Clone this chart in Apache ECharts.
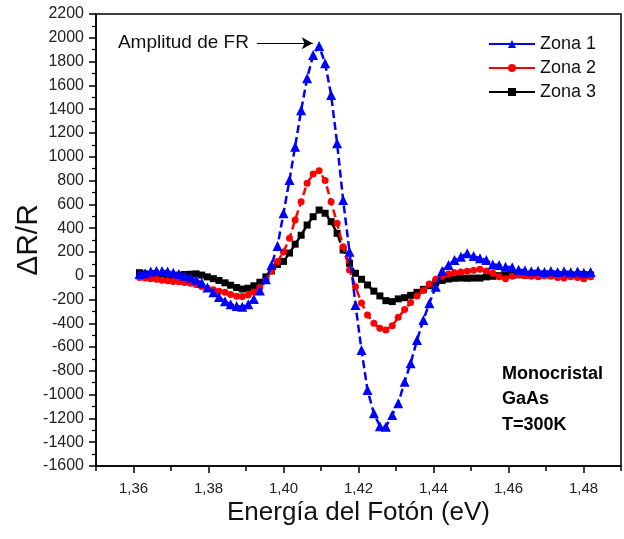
<!DOCTYPE html>
<html>
<head>
<meta charset="utf-8">
<script src="https://cdn.jsdelivr.net/npm/echarts@6/dist/echarts.min.js"></script>
<style>
  html, body { margin: 0; padding: 0; background: #fff; }
  #chart { width: 624px; height: 539px; }
</style>
</head>
<body>
<div id="chart"></div>
<script>
// energía (eV) de cada punto medido
var energy = [1.3616, 1.3631, 1.3646, 1.3661, 1.3676, 1.3691, 1.3706, 1.3721, 1.3736, 1.3752,
  1.3767, 1.3782, 1.3797, 1.3813, 1.3828, 1.3844, 1.3859, 1.3875, 1.3890, 1.3906,
  1.3921, 1.3937, 1.3953, 1.3968, 1.3984, 1.4000, 1.4016, 1.4031, 1.4047, 1.4063,
  1.4079, 1.4095, 1.4111, 1.4127, 1.4143, 1.4159, 1.4176, 1.4192, 1.4208, 1.4224,
  1.4241, 1.4257, 1.4273, 1.4290, 1.4306, 1.4323, 1.4339, 1.4356, 1.4373, 1.4389,
  1.4406, 1.4423, 1.4440, 1.4456, 1.4473, 1.4490, 1.4507, 1.4524, 1.4541, 1.4558,
  1.4575, 1.4592, 1.4610, 1.4627, 1.4644, 1.4661, 1.4679, 1.4696, 1.4713, 1.4731,
  1.4748, 1.4766, 1.4784, 1.4801, 1.4819]

var zona1 = [15, 20, 35, 40, 40, 35, 25, 15, 0, -15,
  -35, -60, -100, -140, -180, -215, -240, -255, -262, -240,
  -195, -125, -30, 90, 250, 525, 805, 1085, 1390, 1660,
  1855, 1930, 1786, 1519, 1113, 636, 202, -246, -625, -961,
  -1157, -1265, -1270, -1171, -1073, -891, -737, -541, -372, -232,
  -92, 40, 90, 132, 160, 188, 165, 146, 132, 95,
  90, 76, 70, 50, 45, 38, 42, 32, 40, 30,
  38, 28, 35, 25, 30]

var zona2 = [-15, -20, -25, -30, -38, -42, -48, -52, -58, -64,
  -75, -90, -105, -118, -130, -140, -158, -172, -175, -162,
  -138, -100, -40, 40, 120, 200, 314, 468, 622, 777,
  855, 883, 800, 622, 440, 244, 48, -92, -230, -330,
  -400, -442, -456, -420, -350, -285, -225, -170, -125, -70,
  -30, -5, 15, 25, 32, 38, 45, 55, 40, 20,
  -10, -25, -5, 5, 0, -5, -10, 0, -5, -15,
  -20, -10, -15, -25, -10]

var zona3 = [25, 15, 5, -10, -20, -15, -5, 5, 10, 12,
  15, 5, -10, -25, -40, -60, -80, -100, -112, -105,
  -85, -55, -10, 40, 95, 120, 190, 265, 340, 426,
  496, 552, 525, 454, 356, 216, 104, 20, -30, -78,
  -130, -170, -210, -218, -195, -185, -165, -140, -115, -85,
  -60, -40, -28, -22, -20, -22, -20, -20, -10, -5,
  0, 5, 5, 8, 5, 8, 10, 8, 12, 10,
  5, 8, 5, 10, 5]

var xMajor = [1.36, 1.38, 1.40, 1.42, 1.44, 1.46, 1.48]
var xMinor = [1.35, 1.37, 1.39, 1.41, 1.43, 1.45, 1.47, 1.49]

// flecha "Amplitud de FR"
var arrowFrom = [1.3929, 1955]
var arrowTo = [1.4078, 1955]

var font = '"Liberation Sans", Arial, sans-serif'

function pairs (ys) {
  return energy.map(function (x, i) { return [x, ys[i]] })
}

var chart = echarts.init(document.getElementById('chart'))
var option = {
  animation: false,
  backgroundColor: '#fff',
  textStyle: { fontFamily: font },
  grid: {
    left: 96,
    right: 3,
    top: 14,
    bottom: 73,
    outerBoundsMode: 'none',
    containLabel: false,
    show: true,
    borderColor: '#000',
    borderWidth: 1.5
  },
  legend: {
    orient: 'vertical',
    left: 488,
    top: 35,
    padding: 0,
    itemGap: 6,
    itemWidth: 46,
    itemHeight: 10,
    lineStyle: { type: 'solid' },
    textStyle: { fontSize: 18, color: '#111', fontFamily: font },
    data: ['Zona 1', 'Zona 2', 'Zona 3']
  },
  xAxis: [
    {
      type: 'value',
      min: 1.35,
      max: 1.49,
      name: 'Energía del Fotón (eV)',
      nameLocation: 'middle',
      nameGap: 34,
      nameMoveOverlap: false,
      nameTextStyle: { fontSize: 26, color: '#111', fontFamily: font },
      axisLine: { onZero: false, lineStyle: { color: '#000', width: 1.5 } },
      axisTick: { customValues: xMajor, length: 7, lineStyle: { color: '#000', width: 1.5 } },
      axisLabel: {
        customValues: xMajor,
        margin: 15,
        fontSize: 15,
        color: '#222',
        formatter: function (v) { return v.toFixed(2).replace('.', ',') }
      },
      splitLine: { show: false }
    },
    {
      type: 'value',
      min: 1.35,
      max: 1.49,
      position: 'bottom',
      axisLine: { show: false, onZero: false },
      axisTick: { customValues: xMinor, length: 5, lineStyle: { color: '#000', width: 1.5 } },
      axisLabel: { show: false },
      splitLine: { show: false }
    }
  ],
  yAxis: {
    type: 'value',
    min: -1600,
    max: 2200,
    interval: 200,
    name: 'ΔR/R',
    nameLocation: 'middle',
    nameRotate: 90,
    nameGap: 52,
    nameMoveOverlap: false,
    nameTextStyle: { fontSize: 30, color: '#111', fontFamily: font },
    axisLine: { onZero: false, lineStyle: { color: '#000', width: 1.5 } },
    axisTick: { length: 7, lineStyle: { color: '#000', width: 1.5 } },
    minorTick: { show: true, splitNumber: 2, length: 4, lineStyle: { color: '#000', width: 1.2 } },
    axisLabel: {
      margin: 12,
      fontSize: 16,
      color: '#222',
      formatter: function (v) { return String(v) }
    },
    splitLine: { show: false }
  },
  graphic: [
    {
      type: 'text',
      left: 502,
      top: 361,
      style: {
        text: 'Monocristal\nGaAs\nT=300K',
        font: 'bold 18px ' + font,
        lineHeight: 25.5,
        fill: '#000'
      }
    }
  ],
  series: [
    {
      name: 'Zona 1',
      type: 'line',
      z: 4,
      data: pairs(zona1),
      symbol: 'triangle',
      symbolSize: 10,
      color: '#0000ff',
      lineStyle: { type: [8, 4], width: 2.5 },
      markLine: {
        silent: true,
        symbol: ['none', 'arrow'],
        symbolSize: [9, 11],
        lineStyle: { type: 'solid', color: '#000', width: 1.2 },
        label: {
          show: true,
          position: 'start',
          distance: 8,
          formatter: 'Amplitud de FR',
          fontSize: 19,
          color: '#111',
          fontFamily: font
        },
        data: [[{ coord: arrowFrom }, { coord: arrowTo }]]
      }
    },
    {
      name: 'Zona 2',
      type: 'line',
      z: 3,
      data: pairs(zona2),
      symbol: 'circle',
      symbolSize: 7,
      color: '#ff0000',
      lineStyle: { type: [8, 4], width: 2.5 }
    },
    {
      name: 'Zona 3',
      type: 'line',
      z: 2,
      data: pairs(zona3),
      symbol: 'rect',
      symbolSize: 7,
      color: '#000000',
      lineStyle: { type: [8, 4], width: 2.5 }
    }
  ]
}
chart.setOption(option)
window.addEventListener('resize', function () { chart.resize() })
</script>
</body>
</html>
